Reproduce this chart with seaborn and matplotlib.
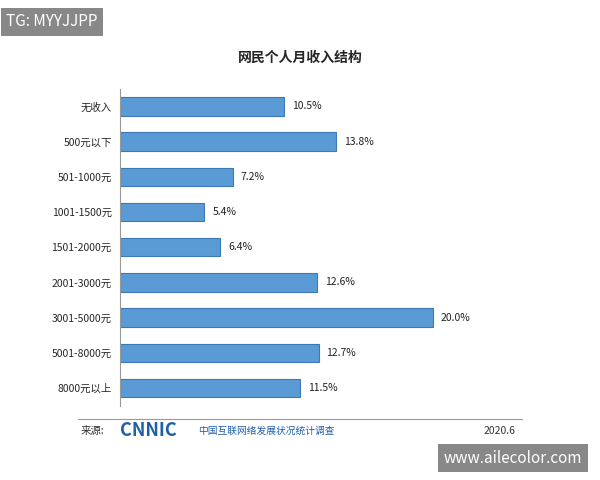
import matplotlib
matplotlib.use("Agg")
import matplotlib.pyplot as plt
import seaborn as sns
import pandas as pd

categories = ["无收入", "500元以下", "501-1000元", "1001-1500元", "1501-2000元",
              "2001-3000元", "3001-5000元", "5001-8000元", "8000元以上"]
values = [10.5, 13.8, 7.2, 5.4, 6.4, 12.6, 20.0, 12.7, 11.5]

sns.set_style("white")
plt.rcParams['font.family'] = ['Noto Sans CJK SC', 'DejaVu Sans']

df = pd.DataFrame({"cat": categories, "val": values})
fig = plt.figure(figsize=(6, 4.8), dpi=100)
ax = fig.add_axes([0.2, 0.155, 0.652, 0.66])
sns.barplot(data=df, x="val", y="cat", ax=ax, color="#5b9bd5", width=0.52,
            edgecolor="#3f79b5", linewidth=0.8, saturation=1)
ax.set_xlim(0, 25)
ax.set_ylim(8.5, -0.5)
ax.set_xlabel(""); ax.set_ylabel("")
ax.set_xticks([])
ax.tick_params(axis="y", length=0, labelsize=7.5, pad=6)
for s in ["top", "right", "bottom"]:
    ax.spines[s].set_visible(False)
ax.spines["left"].set_color("#999999")
for i, v in enumerate(values):
    ax.text(v + 0.5, i, f"{v:.1f}%", va="center", ha="left", fontsize=7.5, color="#222222")

fig.text(0.5, 0.88, "网民个人月收入结构", ha="center", va="center", fontsize=10, fontweight="bold")
fig.add_artist(plt.Line2D([0.13, 0.87], [0.128, 0.128], color="#999999", lw=0.8))
fig.text(0.135, 0.103, "来源:", fontsize=7.5, va="center", color="#333333")
fig.text(0.2, 0.103, "CNNIC", fontsize=13, fontweight="bold", va="center", color="#1f5fa8")
fig.text(0.33, 0.103, "中国互联网络发展状况统计调查", fontsize=7, va="center", color="#1f5fa8")
fig.text(0.86, 0.103, "2020.6", fontsize=7.5, va="center", ha="right", color="#333333")
fig.text(0.01, 0.955, "TG: MYYJJPP", fontsize=11, color="white", va="center",
         bbox=dict(facecolor="#888888", edgecolor="none", pad=4))
fig.text(0.97, 0.045, "www.ailecolor.com", fontsize=11, color="white", va="center", ha="right",
         bbox=dict(facecolor="#888888", edgecolor="none", pad=4))
fig.savefig("out.png", dpi=100)
